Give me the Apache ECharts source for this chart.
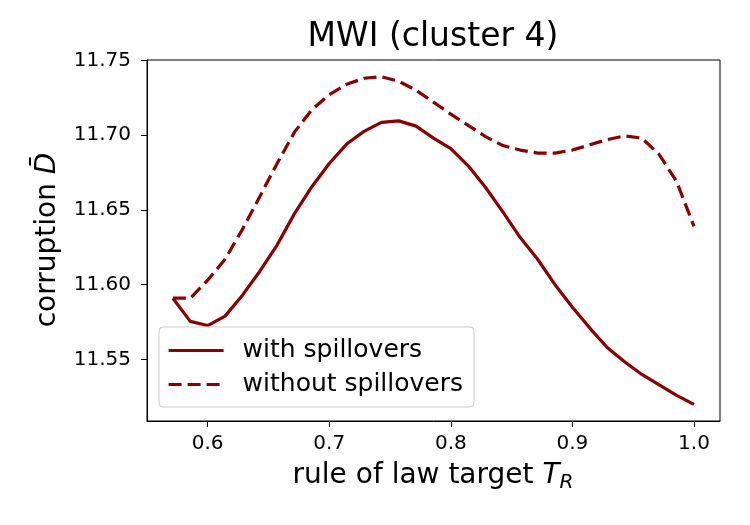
<!DOCTYPE html>
<html>
<head>
<meta charset="utf-8">
<script src="https://cdn.jsdelivr.net/npm/echarts@6/dist/echarts.min.js"></script>
<style>html,body{margin:0;padding:0;background:#fff}#c{width:750px;height:525px}</style>
</head>
<body>
<div id="c"></div>
<script>
var xValues = [0.5714, 0.5857, 0.6000, 0.6143, 0.6286, 0.6429, 0.6571, 0.6714, 0.6857, 0.7000,
  0.7143, 0.7286, 0.7429, 0.7571, 0.7714, 0.7857, 0.8000, 0.8143, 0.8286, 0.8429,
  0.8571, 0.8714, 0.8857, 0.9000, 0.9143, 0.9286, 0.9429, 0.9571, 0.9714, 0.9857, 1.0000];
var withSpill = [11.591, 11.5755, 11.5727, 11.579, 11.593, 11.609, 11.6265, 11.6475, 11.6655, 11.681,
  11.694, 11.7025, 11.7085, 11.7095, 11.706, 11.698, 11.691, 11.6795, 11.665, 11.6485,
  11.6315, 11.617, 11.600, 11.585, 11.571, 11.558, 11.5485, 11.540, 11.533, 11.526, 11.520];
var withoutSpill = [11.591, 11.591, 11.603, 11.617, 11.637, 11.659, 11.681, 11.702, 11.717, 11.727,
  11.734, 11.738, 11.739, 11.736, 11.730, 11.722, 11.714, 11.7065, 11.699, 11.693,
  11.690, 11.688, 11.688, 11.690, 11.6935, 11.697, 11.6995, 11.698, 11.687, 11.669, 11.639];
var xTicks = [0.6, 0.7, 0.8, 0.9, 1.0];
var yTicks = [11.55, 11.60, 11.65, 11.70, 11.75];
var seriesNames = ['with spillovers', 'without spillovers'];
var titleText = 'MWI (cluster 4)';

function pairs(xs, ys) { return xs.map(function (x, i) { return [x, ys[i]]; }); }

var FONT = 'DejaVu Sans';
var RED = '#8b0000';
var chart = echarts.init(document.getElementById('c'), null, { renderer: 'canvas' });
chart.setOption({
  animation: false,
  backgroundColor: '#fff',
  textStyle: { fontFamily: FONT },
  grid: { left: 147, top: 60, width: 573, height: 361, show: true, borderColor: '#000', borderWidth: 1, backgroundColor: 'transparent' },
  xAxis: {
    type: 'value', min: 0.5501, max: 1.0214,
    axisLine: { show: true, onZero: false, lineStyle: { color: '#000', width: 1 } },
    axisTick: { show: true, inside: false, length: 6, lineStyle: { color: '#000', width: 1 }, customValues: xTicks },
    axisLabel: { color: '#000', fontSize: 20, fontFamily: FONT, margin: 13, customValues: xTicks, formatter: function (v) { return v.toFixed(1); } },
    splitLine: { show: false }
  },
  yAxis: {
    type: 'value', min: 11.5089, max: 11.7502,
    axisLine: { show: true, onZero: false, lineStyle: { color: '#000', width: 1 } },
    axisTick: { show: true, inside: false, length: 6, lineStyle: { color: '#000', width: 1 }, customValues: yTicks },
    axisLabel: { color: '#000', fontSize: 20, fontFamily: FONT, margin: 16, customValues: yTicks, formatter: function (v) { return v.toFixed(2); } },
    splitLine: { show: false }
  },
  legend: {
    orient: 'vertical', left: 159, top: 327,
    padding: [11, 11, 10, 8],
    itemWidth: 55, itemHeight: 14, itemGap: 9,
    itemStyle: { opacity: 0, borderWidth: 0 },
    lineStyle: { width: 3.2 },
    backgroundColor: 'rgba(255,255,255,0.8)', borderColor: '#cccccc', borderWidth: 1, borderRadius: 4,
    textStyle: { fontSize: 25, fontFamily: FONT, color: '#000', lineHeight: 25, padding: [0, 0, 0, 14] },
    data: seriesNames
  },
  series: [
    { name: seriesNames[0], type: 'line', symbol: 'none', data: pairs(xValues, withSpill),
      lineStyle: { color: RED, width: 3.2, type: 'solid', join: 'round' }, itemStyle: { color: RED } },
    { name: seriesNames[1], type: 'line', symbol: 'none', data: pairs(xValues, withoutSpill),
      lineStyle: { color: RED, width: 3.2, type: [13, 6] }, itemStyle: { color: RED } }
  ],
  graphic: [
    { type: 'text', x: 433, y: 37, style: { text: titleText, align: 'center', verticalAlign: 'middle', font: '33px "DejaVu Sans"', fill: '#000' } },
    { type: 'text', x: 48, y: 240, rotation: Math.PI / 2,
      style: { text: 'corruption {i|D̄}', align: 'center', verticalAlign: 'middle', font: '28px "DejaVu Sans"', fill: '#000',
        rich: { i: { fontStyle: 'italic', fontSize: 28, fontFamily: FONT } } } },
    { type: 'text', x: 433, y: 476,
      style: { text: 'rule of law target {i|T}{s|R}', align: 'center', verticalAlign: 'middle', font: '28px "DejaVu Sans"', fill: '#000',
        rich: { i: { fontStyle: 'italic', fontSize: 28, fontFamily: FONT }, s: { fontStyle: 'italic', fontSize: 20, fontFamily: FONT, padding: [14, 0, 0, 0] } } } }
  ]
});
</script>
</body>
</html>
